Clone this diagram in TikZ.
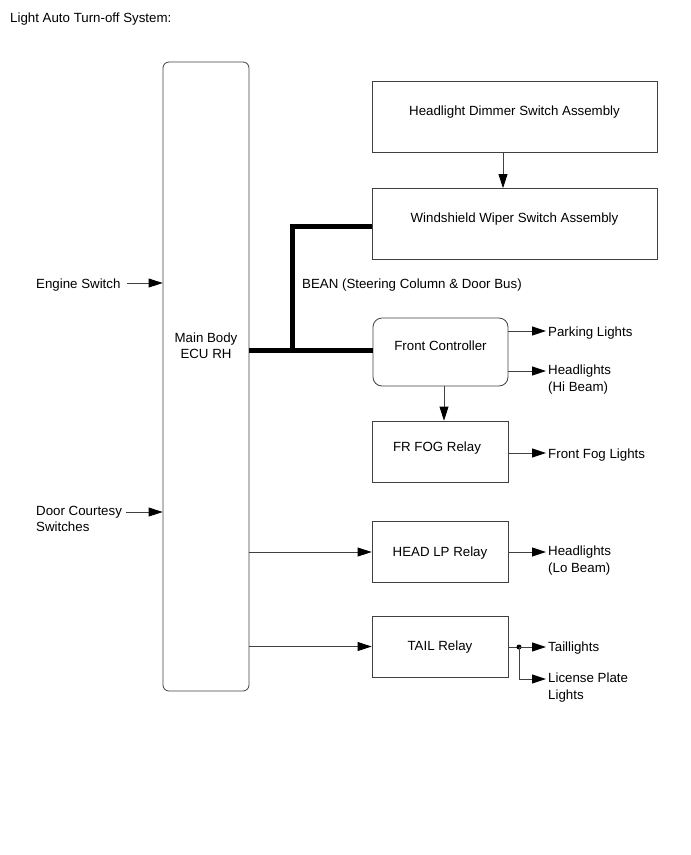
\documentclass[tikz,border=0pt]{standalone}
\usepackage{fontspec}
\setmainfont{Liberation Sans}
\usetikzlibrary{arrows.meta}

\begin{document}
\begin{tikzpicture}[
  x=1pt, y=-1pt,
  font=\fontsize{13.3}{16.5}\selectfont,
  box/.style={draw=black!75, line width=0.8pt, minimum width=136pt, minimum height=61pt, inner sep=0pt},
  wide/.style={box, minimum width=285pt, minimum height=71pt},
  lbl/.style={anchor=west, align=left, inner sep=0pt},
  arrow/.style={-{Triangle[length=14pt,width=9pt,color=black]}, draw=black!75, line width=0.8pt},
  bus/.style={line width=5pt, line cap=butt}
]
\useasboundingbox (0,0) rectangle (691,855);
\node[lbl] (title) at (10,19) {Light Auto Turn-off System:};
% control unit and switches
\node[box, rounded corners=6pt, minimum width=86pt, minimum height=629pt,
  label={[yshift=31pt, align=center]center:Main Body\\ECU RH}] (ecu) at (206,376.5) {};
\node[wide, label={[yshift=4pt]center:Headlight Dimmer Switch Assembly}] (dimmer) at (514.5,116.5) {};
\node[wide, label={[yshift=5pt]center:Windshield Wiper Switch Assembly}] (wiper) at (514.5,224) {};
\node[box, rounded corners=9pt, minimum width=135pt, minimum height=68pt,
  label={[yshift=6pt]center:Front Controller}] (fc) at (440.5,352) {};
\node[box, label={[xshift=-3pt,yshift=3pt]center:FR FOG Relay}] (fog) at (440,451.5) {};
\node[box, label={[yshift=-1pt]center:HEAD LP Relay}] (head) at (440,552) {};
\node[box, label={[yshift=-1pt]center:TAIL Relay}] (tail) at (440,646.5) {};
% inputs
\node[lbl] (engine) at (36,285) {Engine Switch};
\node[lbl, anchor=north west] (door) at (36,506) {Door Courtesy\\Switches};
\draw[arrow] ([xshift=6pt]engine.east |- 0,283) -- (ecu.west |- 0,283);
\draw[arrow] ([xshift=4pt]door.north east |- 0,512) -- (ecu.west |- 0,512);
\draw[arrow] (dimmer.south -| 503,0) -- (wiper.north -| 503,0);
% BEAN bus
\coordinate (tap) at (292,350);
\draw[bus] (ecu.east |- tap) -- (fc.west |- tap);
\draw[bus] (tap) |- (wiper.west |- 0,226);
\node[lbl] (bean) at (302,285) {BEAN (Steering Column \& Door Bus)};
% outputs
\node[lbl] (park) at (548,333) {Parking Lights};
\node[lbl, anchor=north west] (hib) at (548,365) {Headlights\\(Hi Beam)};
\node[lbl] (ffl) at (548,455) {Front Fog Lights};
\node[lbl, anchor=north west] (lob) at (548,546) {Headlights\\(Lo Beam)};
\node[lbl] (tl) at (548,648) {Taillights};
\node[lbl, anchor=north west] (lpl) at (548,673) {License Plate\\Lights};
\draw[arrow] (fc.east |- 0,331) -- ([xshift=-2pt]park.west |- 0,331);
\draw[arrow] (fc.east |- 0,371) -- ([xshift=-2pt]hib.west |- 0,371);
\draw[arrow] (fc.south -| 444,0) -- (fog.north -| 444,0);
\draw[arrow] (fog.east |- 0,453) -- ([xshift=-2pt]ffl.west |- 0,453);
\draw[arrow] (ecu.east |- head.west) -- (head.west);
\draw[arrow] (head.east) -- ([xshift=-2pt]lob.west |- head.east);
\draw[arrow] (ecu.east |- tail.west) -- (tail.west);
\coordinate (split) at (519,647);
\draw[draw=black!75, line width=0.8pt] (tail.east |- split) -- (split);
\fill (split) circle (2.5pt);
\draw[arrow] (split) -- ([xshift=-2pt]tl.west |- split);
\draw[arrow] (split) |- ([xshift=-2pt]lpl.west |- 0,679);
\end{tikzpicture}
\end{document}
